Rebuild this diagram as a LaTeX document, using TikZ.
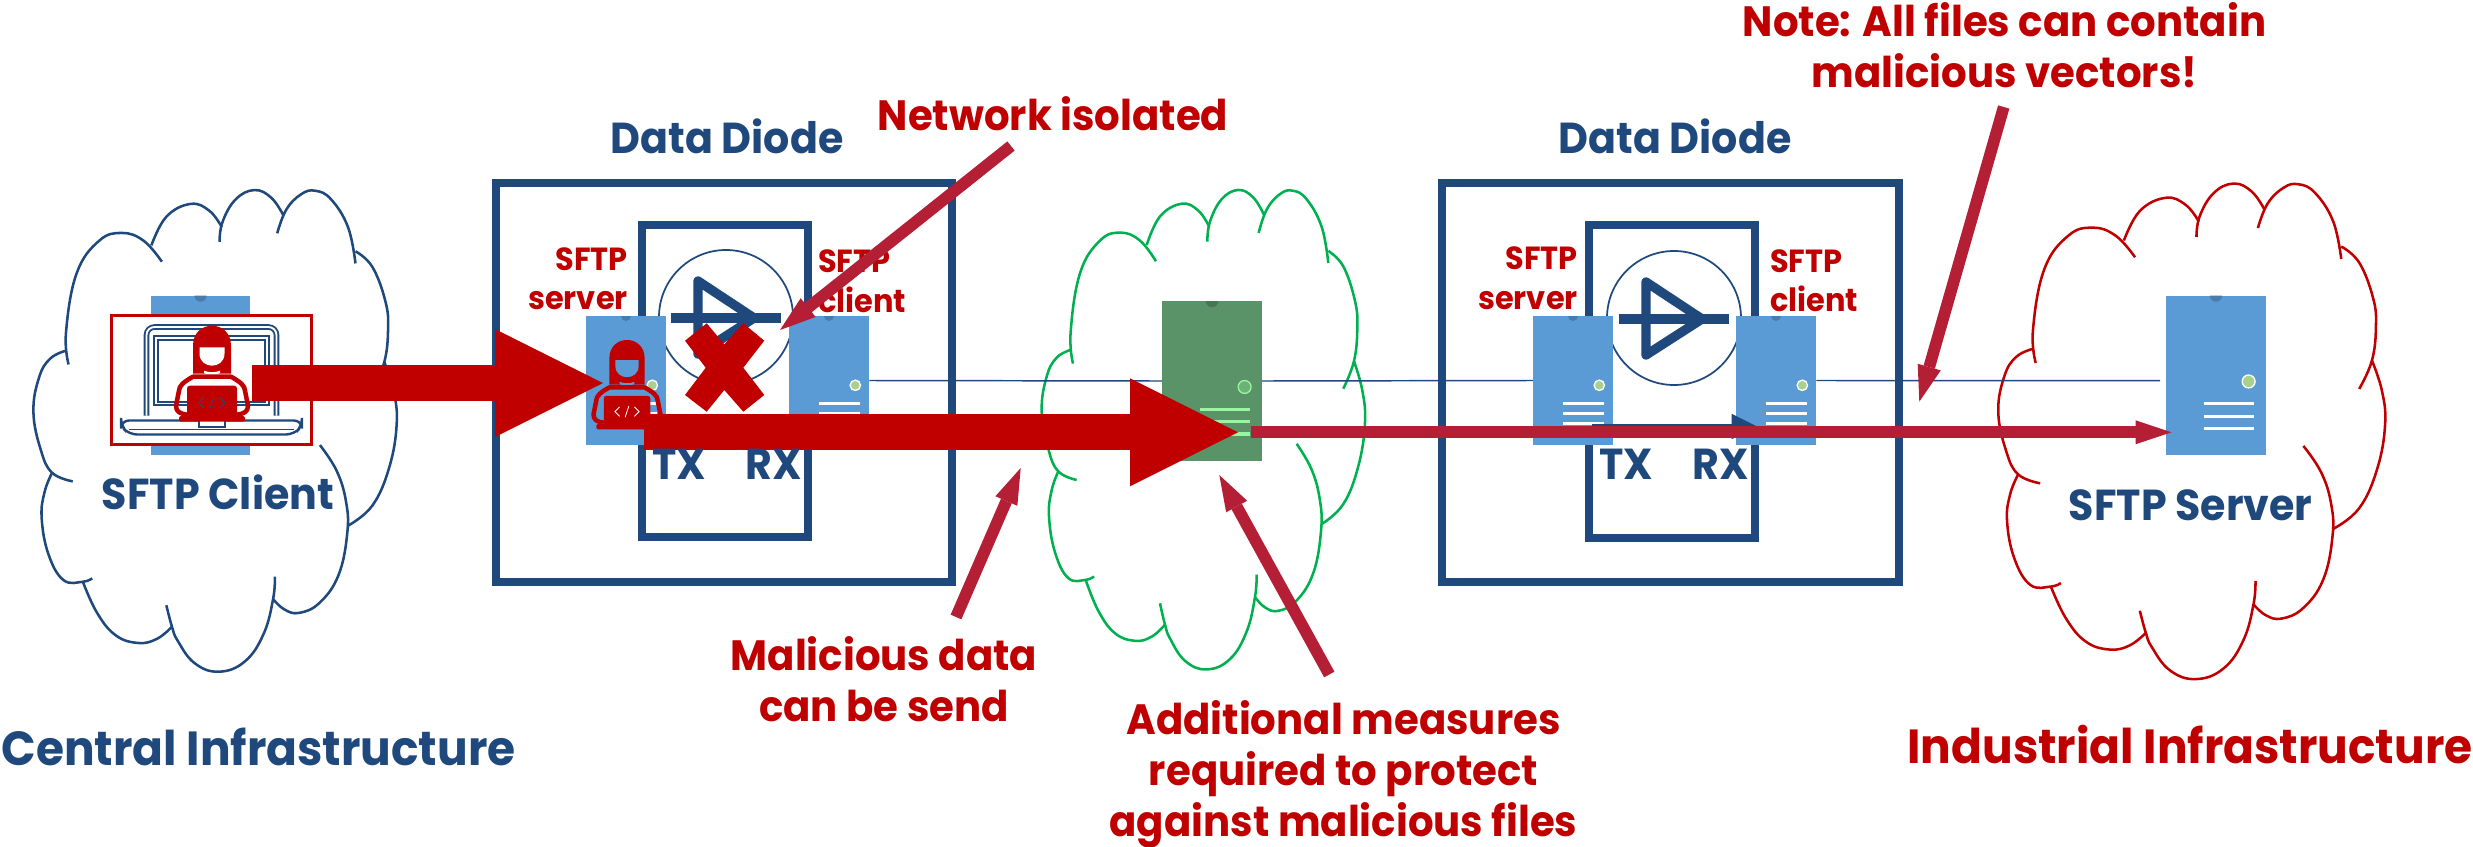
\documentclass[tikz,border=0pt]{standalone}
\usepackage{fontspec}
\setmainfont{Poppins}[FakeStretch=0.95]
\usetikzlibrary{arrows.meta}
\definecolor{dblue}{HTML}{1F497D}
\definecolor{dred}{HTML}{C00000}
\definecolor{crim}{HTML}{B51F36}
\definecolor{sblue}{HTML}{5B9BD5}
\definecolor{sgreen}{HTML}{5A9367}
\definecolor{cgreen}{HTML}{00B050}
\definecolor{dotgreen}{HTML}{A9D18E}
\definecolor{midline}{HTML}{98F5A0}
\tikzset{
  cloudline/.style={line width=1.9pt,line cap=butt},
  srvbox/.style={rectangle,draw=none,minimum width=60pt,minimum height=96.75pt,inner sep=0pt,transform shape},
  diodebox/.style={draw=dblue,line width=6pt,fill=white,miter limit=10},
  thinlink/.style={draw=dblue,line width=1.1pt},
  bigarrow/.style={draw=dred,line width=27pt,-{Triangle[length=81pt,width=81pt,line width=0pt]}},
  callout/.style={draw=crim,line width=8.8pt,-{Triangle[length=27pt,width=18pt,line width=0pt]}},
  lblblue/.style={text=dblue,inner sep=0pt,font=\fontsize{32.5}{40}\selectfont\bfseries},
  lblhuge/.style={inner sep=0pt,font=\fontsize{35.9}{42}\selectfont\bfseries},
  lblred/.style={text=dred,inner sep=0pt,align=center,font=\fontsize{31.8}{38.25}\selectfont\bfseries},
  lblsmall/.style={text=dred,inner sep=0pt,font=\fontsize{24}{29}\selectfont\bfseries},
}
\newcommand{\lobe}[2]{\draw[cloudline,draw=#1] plot[smooth,tension=.7] coordinates {#2};}
\newcommand{\mycloud}[5]{%
 \begin{scope}[shift={(#1,#3)},xscale=#2,yscale=#4]
   \lobe{#5}{(219,562) (212,470) (240,300) (300,205) (362,182) (420,205) (468,265)}
   \lobe{#5}{(440,218) (480,135) (545,98) (595,118) (628,165)}
   \lobe{#5}{(622,208) (630,150) (665,85) (715,58) (760,80) (792,130)}
   \lobe{#5}{(776,183) (800,115) (840,70) (878,60) (920,85) (965,165) (985,270)}
   \lobe{#5}{(985,235) (1030,280) (1065,380) (1072,460) (1062,555) (1030,635)}
   \lobe{#5}{(1062,555) (1087,640) (1095,735) (1075,860) (1030,970) (965,1028)}
   \lobe{#5}{(890,795) (935,870) (960,960) (963,1050) (940,1170) (890,1250) (835,1280) (795,1270) (765,1240)}
   \lobe{#5}{(770,1175) (765,1240) (740,1340) (690,1420) (620,1450) (555,1425) (510,1360) (495,1320) (480,1258)}
   \lobe{#5}{(495,1320) (455,1355) (405,1367) (345,1345) (295,1280) (257,1190)}
   \lobe{#5}{(282,1180) (257,1190) (205,1185) (165,1110) (147,1005) (155,930) (175,875)}
   \lobe{#5}{(230,900) (175,875) (145,810) (125,700) (140,600) (170,545) (213,522)}
 \end{scope}}
% name, cx, cy, scale, body, dot, bars
\newcommand{\myserver}[7]{%
 \begin{scope}[shift={(#2,#3)},scale=#4]
  \node[srvbox,fill=#5] (#1) at (0,0) {};
  \fill[#5!80!black] (-5,-64.5) arc[start angle=180,end angle=0,radius=5] -- cycle;
  \draw[draw=#7,fill=#6,line width=1pt] (26.3,4.8) circle[radius=5.2];
  \foreach \yy in {22.8,32.8,42.8}{\draw[draw=#7,line width=2.5pt] (-9.7,\yy) -- (31,\yy);}
 \end{scope}}
% cx, top, scale, face colour, code colour
\newcommand{\myhacker}[5]{%
 \begin{scope}[shift={(#1,#2)},scale=#3]
  \fill[dred] (-19,48) -- (-19,20) .. controls (-19,7) and (-10,0) .. (0,0) .. controls (10,0) and (19,7) .. (19,20) -- (19,48) -- cycle;
  \fill[#4] (-12.5,21.6) -- (12.5,21.6) -- (12.5,28) .. controls (12.5,36) and (6,40) .. (0,40) .. controls (-6,40) and (-12.5,36) .. (-12.5,28) -- cycle;
  \fill[#4] (-8,45) .. controls (-3,47) and (3,47) .. (8,45) -- (8,47.5) .. controls (3,49.5) and (-3,49.5) .. (-8,47.5) -- cycle;
  \draw[dred,line width=3.4pt,line join=round] (-25,89) .. controls (-32,88) and (-36,86) .. (-36,80) -- (-33,65) .. controls (-33,60) and (-28,56) .. (-19,51) -- (19,51) .. controls (28,56) and (33,60) .. (33,65) -- (36,80) .. controls (36,86) and (32,88) .. (25,89);
  \fill[dred,rounded corners=2pt] (-25,60) rectangle (25,92);
  \fill[dred,rounded corners=1pt] (-33,90.5) rectangle (33,96);
  \draw[#5,line width=.6pt] (-8,72) -- (-13,77) -- (-8,82) (-2,83) -- (2,71) (8,72) -- (13,77) -- (8,82);
 \end{scope}}
\begin{document}
\begin{tikzpicture}[x=.75pt,y=-.75pt]
\useasboundingbox (0,0) rectangle (2473,846);
% clouds
\mycloud{-13.4}{.3745}{170}{.346}{dblue}
\mycloud{1000}{.3333}{170}{.3444}{cgreen}
\mycloud{1948.4}{.3988}{162.9}{.356}{dred}
% diode boxes
\draw[diodebox] (495.7,183) rectangle (951.7,581.7);
\draw[diodebox] (641.7,224.7) rectangle (808.3,537.3);
\draw[diodebox] (1442.3,183) rectangle (1899,581.7);
\draw[diodebox] (1589,224.7) rectangle (1755.3,537.7);
% diode symbols
\foreach \cx/\cy in {726/317,1674/318}{
 \begin{scope}[shift={(\cx,\cy)}]
  \draw[dblue,line width=1.3pt] (0,0) circle[radius=67];
  \draw[dblue,line width=7pt,line join=round] (-28,-36) -- (28,1) -- (-28,37) -- cycle;
  \draw[dblue,line width=7.5pt] (-55,1) -- (55,1);
 \end{scope}}
% labels under the servers
\node[lblsmall,anchor=base east] (srv1) at (628,270) {SFTP};
\node[lblsmall,anchor=base east] (srv1b) at (628,309) {server};
\node[lblsmall,anchor=base west] (cli1) at (818,272.7) {SFTP};
\node[lblsmall,anchor=base west] (cli1b) at (818,312) {client};
\node[lblsmall,anchor=base east] (srv2) at (1578,269) {SFTP};
\node[lblsmall,anchor=base east] (srv2b) at (1578,309) {server};
\node[lblsmall,anchor=base west] (cli2) at (1770,272) {SFTP};
\node[lblsmall,anchor=base west] (cli2b) at (1770,311.7) {client};
% servers
\myserver{hostA}{200.5}{375.5}{1.24}{sblue}{sblue}{sblue}
\myserver{ltx}{626}{380.5}{1}{sblue}{dotgreen}{white}
\myserver{lrx}{829}{380.5}{1}{sblue}{dotgreen}{white}
\myserver{mid}{1212}{381}{1.24}{sgreen}{sgreen!70!midline}{midline}
\myserver{rtx}{1573}{380.5}{1}{sblue}{dotgreen}{white}
\myserver{rrx}{1776}{380.5}{1}{sblue}{dotgreen}{white}
\myserver{hostB}{2216}{375.5}{1.24}{sblue}{dotgreen}{white}
% thin links
\coordinate (linkend) at (2160,380.7);
\draw[thinlink] (lrx.east) -- (mid.west);
\draw[thinlink] (mid.east) -- (rtx.west);
\draw[thinlink] (rrx.east) -- (linkend);
% laptop
\node[rectangle,draw=dred,fill=white,line width=1.9pt,minimum width=150pt,minimum height=97pt,inner sep=0pt] (hack) at (211.5,380) {};
\draw[dblue,line width=4.2pt,rounded corners=6pt] (146.5,415.7) -- (146.5,327) -- (276.5,327) -- (276.5,415.7);
\draw[white,line width=1.4pt,rounded corners=6pt] (146.5,415.7) -- (146.5,327) -- (276.5,327) -- (276.5,415.7);
\draw[dblue,line width=4pt] (156,338) rectangle (267,403.5);
\draw[white,line width=1.2pt] (156,338) rectangle (267,403.5);
\draw[dblue,line width=1.8pt,rounded corners=6pt,fill=white] (121,420.5) -- (302,420.5) -- (302,426) -- (294,434.5) -- (129,434.5) -- (121,426) -- cycle;
\draw[dblue,line width=1pt] (129,429.5) -- (294,429.5);
\draw[dblue,line width=1.3pt,fill=white] (199,421) -- (199,427) -- (225,427) -- (225,421);
\myhacker{212}{325.7}{1}{white}{dblue}
% dark arrows (mostly hidden)
\coordinate (dA) at (1592,426.5);
\coordinate (dB) at (1757,426.5);
\draw[draw=dblue,line width=4.5pt,-{Triangle[length=19pt,width=19pt,line width=0pt]}] (dA) -- (dB);
% second hacker
\myhacker{627}{340}{.93}{sblue}{white}
% big arrows
\coordinate (a1s) at (251.7,383);
\coordinate (a1e) at (603,383);
\coordinate (a2s) at (644,432.3);
\coordinate (a2e) at (1238,432.3);
\coordinate (a3s) at (1250.7,432.3);
\coordinate (a3e) at (2171.5,432.3);
\draw[bigarrow] (a1s) -- (a1e);
\draw[callout] (a3s) -- (a3e);
\draw[bigarrow] (a2s) -- (a2e);
% X
\fill[dred] (706.7,323.3) -- (724.3,344.3) -- (743.3,323.3) -- (764.3,340.7) -- (743.3,367.7) -- (764.3,395) -- (743.3,411.7) -- (724.3,390) -- (706.7,411.7) -- (685,395) -- (705.7,367.7) -- (685,340.7) -- cycle;
% callouts
\coordinate (c1s) at (1011,146);
\coordinate (c1e) at (780,330);
\coordinate (c2s) at (956,617);
\coordinate (c2e) at (1020.7,468);
\coordinate (c3s) at (1329.3,674.5);
\coordinate (c3e) at (1219.3,475);
\coordinate (c4s) at (2003.7,107);
\coordinate (c4e) at (1919.3,401.7);
\draw[callout] (c1s) -- (c1e);
\draw[callout] (c2s) -- (c2e);
\draw[callout] (c3s) -- (c3e);
\draw[callout] (c4s) -- (c4e);
% labels
\node[lblblue,anchor=base] (dd1) at (727,153) {Data Diode};
\node[lblblue,anchor=base] (dd2) at (1675,153) {Data Diode};
\node[lblblue,anchor=base] (tx1) at (679,479) {TX};
\node[lblblue,anchor=base] (rx1) at (774,479) {RX};
\node[lblblue,anchor=base] (tx2) at (1626,479) {TX};
\node[lblblue,anchor=base] (rx2) at (1721,479) {RX};
\node[lblblue,anchor=base] (lc) at (218,509) {SFTP Client};
\node[lblblue,anchor=base] (ls) at (2190.7,520.5) {SFTP Server};
\node[lblhuge,text=dblue,anchor=base] (central) at (258.5,765) {Central Infrastructure};
\node[lblhuge,text=dred,anchor=base] (indus) at (2190,763) {Industrial Infrastructure};
\node[lblred,anchor=base] (netiso) at (1053,130.7) {Network isolated};
\node[lblred,anchor=base] (mal) at (884,721) {Malicious data\\can be send};
\node[lblred,anchor=base] (addm) at (1343.5,836) {Additional measures\\required to protect\\against malicious files};
\node[lblred,anchor=base] (note) at (2004.5,87.7) {Note: All files can contain\\malicious vectors!};
\end{tikzpicture}
\end{document}
